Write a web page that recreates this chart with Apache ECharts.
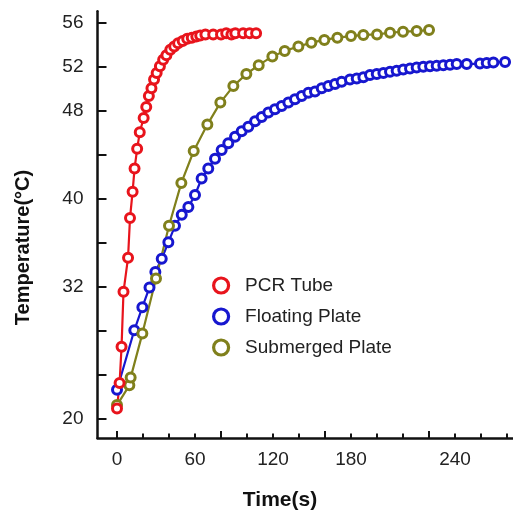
<!DOCTYPE html>
<html>
<head>
<meta charset="utf-8">
<script src="https://cdn.jsdelivr.net/npm/echarts@6/dist/echarts.min.js"></script>
<style>
html,body{margin:0;padding:0;background:#fff;}
#c{width:513px;height:517px;}
</style>
</head>
<body>
<div id="c"></div>
<script>
// ---- data ----
var pcrTime = [0, 2, 3.5, 5, 8.5, 10, 12, 13.5, 15.5, 17.5, 20.5, 22.5, 24.5, 26.5, 28.5, 30.5, 33, 35.5, 38, 41, 44, 47, 50.5, 54, 57.5, 61, 64, 68, 74, 80, 84, 88, 91, 97, 102, 107];
var pcrTemp = [20.9, 23.2, 26.5, 31.5, 34.6, 38.2, 40.6, 42.7, 44.5, 46.0, 47.3, 48.3, 49.3, 50.0, 50.8, 51.4, 52.0, 52.6, 53.0, 53.5, 53.8, 54.1, 54.3, 54.5, 54.6, 54.7, 54.8, 54.9, 54.9, 54.9, 55.0, 54.9, 55.0, 55.0, 55.0, 55.0];

var floatTime = [0, 13.3, 19.5, 25, 29.5, 34.4, 39.5, 44.6, 49.8, 54.9, 60, 65.1, 70.2, 75.4, 80.5, 85.6, 90.8, 95.9, 101, 106.2, 111.3, 116.4, 121.5, 126.7, 131.8, 136.9, 142.1, 147.2, 152.3, 157.5, 162.6, 167.7, 172.8, 179.2, 184.4, 189.5, 194.6, 199.8, 204.9, 210, 215.1, 220.2, 225.4, 230.5, 235.6, 240.8, 245.9, 251, 256.2, 261.3, 269, 279.2, 284.4, 289.5, 298.5];
var floatTemp = [22.6, 28.0, 30.1, 31.9, 33.3, 34.5, 36.0, 37.5, 38.5, 39.2, 40.3, 41.8, 42.7, 43.6, 44.4, 45.0, 45.6, 46.1, 46.5, 47.0, 47.4, 47.8, 48.1, 48.4, 48.7, 49.0, 49.3, 49.6, 49.7, 50.0, 50.2, 50.4, 50.6, 50.8, 50.9, 51.0, 51.2, 51.3, 51.4, 51.5, 51.6, 51.7, 51.8, 51.9, 51.95, 52.0, 52.05, 52.1, 52.15, 52.2, 52.2, 52.25, 52.3, 52.35, 52.4];

var subTime = [0, 9.5, 10.5, 19.5, 30, 40, 49.5, 59, 69.5, 79.5, 89.5, 99.5, 109, 119.5, 129, 139.5, 149.5, 159.5, 169.5, 180, 189.5, 200, 210, 220, 230.5, 240];
var subTemp = [21.2, 23.0, 23.7, 27.7, 32.7, 37.5, 41.4, 44.3, 46.7, 48.7, 50.2, 51.3, 52.1, 52.9, 53.4, 53.8, 54.15, 54.4, 54.6, 54.75, 54.85, 54.9, 55.05, 55.15, 55.2, 55.3];

var seriesNames = ['PCR Tube', 'Floating Plate', 'Submerged Plate'];
var yTickValues = [20, 24, 28, 32, 36, 40, 44, 48, 52, 56];
var yLabelValues = [20, 32, 40, 48, 52, 56];
var xMajorTicks = [0, 80, 160, 240];
var xMinorTicks = [0, 20, 40, 60, 80, 100, 120, 140, 160, 180, 200, 220, 240, 260, 280, 300];
var xLabelValues = [0, 60, 120, 180, 260];
var xLabelTexts = ['0', '60', '120', '180', '240'];
var xTitle = 'Time(s)';
var yTitle = 'Temperature(°C)';

// ---- chart ----
var colors = {red: '#e8141c', blue: '#1717cf', olive: '#80801c'};
var FONT = '"Liberation Sans", Arial, sans-serif';

function pairs(xs, ys) { return xs.map(function (x, i) { return [x, ys[i]]; }); }

function lineSeries(name, data, color) {
  return {
    name: name, type: 'line', data: data, xAxisIndex: 0, yAxisIndex: 0,
    symbol: 'circle', symbolSize: 9, showSymbol: true,
    lineStyle: {color: color, width: 2.2},
    itemStyle: {color: '#fff', borderColor: color, borderWidth: 3},
    emphasis: {disabled: true}
  };
}

var chart = echarts.init(document.getElementById('c'), null, {renderer: 'canvas'});
chart.setOption({
  animation: false,
  backgroundColor: '#fff',
  grid: {left: 97.5, right: 0, top: 11.3, height: 426.8, containLabel: false},
  xAxis: [{
    type: 'value', position: 'bottom', min: -15, max: 304.6,
    axisLine: {show: true, onZero: false, lineStyle: {color: '#111', width: 2.5}},
    axisTick: {show: true, inside: true, length: 7, customValues: xMajorTicks, lineStyle: {color: '#111', width: 2}},
    axisLabel: {show: true, customValues: xLabelValues, margin: 12, fontSize: 19, color: '#222', fontFamily: FONT,
      formatter: function (v) { var i = xLabelValues.indexOf(v); return i >= 0 ? xLabelTexts[i] : ''; }},
    splitLine: {show: false}
  }, {
    type: 'value', position: 'bottom', min: -15, max: 304.6,
    axisLine: {show: false, onZero: false},
    axisTick: {show: true, inside: true, length: 4.5, customValues: xMinorTicks, lineStyle: {color: '#111', width: 2}},
    axisLabel: {show: false},
    splitLine: {show: false}
  }],
  yAxis: [{
    type: 'value', min: 18.2, max: 57,
    axisLine: {show: true, onZero: false, lineStyle: {color: '#111', width: 2.5}},
    axisTick: {show: true, inside: true, length: 9, customValues: yTickValues, lineStyle: {color: '#111', width: 2}},
    axisLabel: {show: true, customValues: yLabelValues, margin: 14, fontSize: 19, color: '#222', fontFamily: FONT},
    splitLine: {show: false}
  }],
  legend: {
    show: true, orient: 'vertical', left: 212, top: 276, padding: 0,
    itemWidth: 38, itemHeight: 15, itemGap: 12,
    textStyle: {fontSize: 19, color: '#222', fontFamily: FONT, lineHeight: 14},
    data: [
      {name: seriesNames[0], icon: 'circle', itemStyle: {color: '#fff', borderColor: colors.red, borderWidth: 3.2}},
      {name: seriesNames[1], icon: 'circle', itemStyle: {color: '#fff', borderColor: colors.blue, borderWidth: 3.2}},
      {name: seriesNames[2], icon: 'circle', itemStyle: {color: '#fff', borderColor: colors.olive, borderWidth: 3.2}}
    ],
    selectedMode: false
  },
  graphic: [
    {type: 'text', x: 23, y: 247.5, rotation: Math.PI / 2,
      style: {text: yTitle, fontSize: 20, fontWeight: 'bold', fontFamily: FONT, fill: '#111', align: 'center', verticalAlign: 'middle'}},
    {type: 'text', x: 280, y: 500,
      style: {text: xTitle, fontSize: 21, fontWeight: 'bold', fontFamily: FONT, fill: '#111', align: 'center', verticalAlign: 'middle'}}
  ],
  series: [
    lineSeries(seriesNames[1], pairs(floatTime, floatTemp), colors.blue),
    lineSeries(seriesNames[2], pairs(subTime, subTemp), colors.olive),
    lineSeries(seriesNames[0], pairs(pcrTime, pcrTemp), colors.red)
  ]
});
</script>
</body>
</html>
